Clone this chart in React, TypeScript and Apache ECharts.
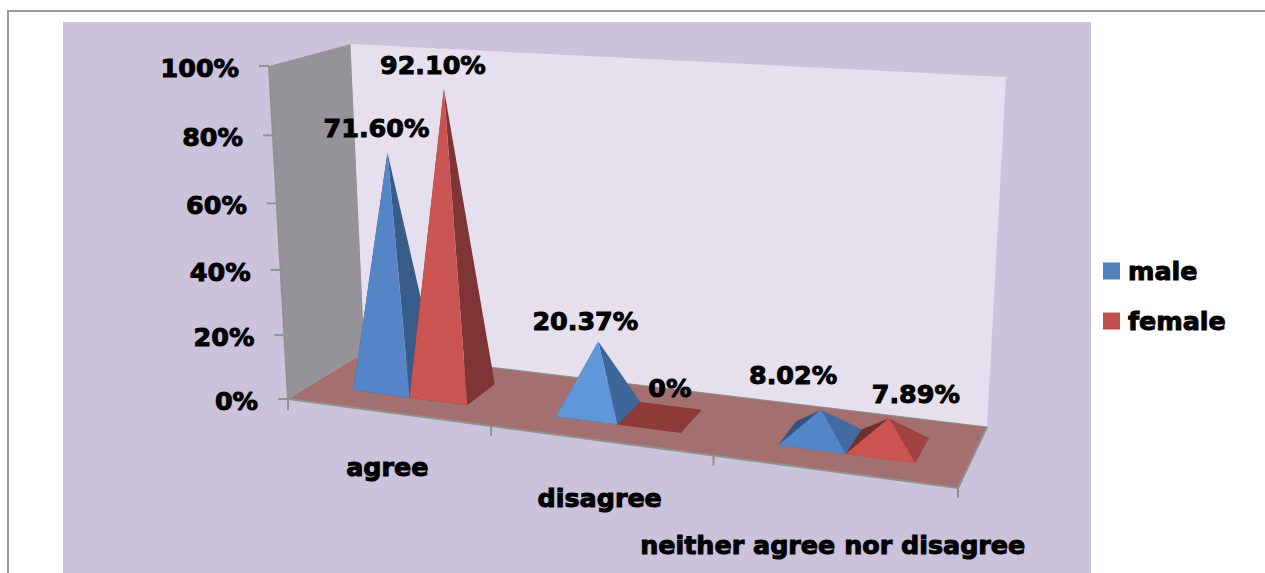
import React, { useEffect, useRef } from "react";
import * as echarts from "echarts";

const categories = ["agree", "disagree", "neither agree nor disagree"];
const maleValues = [71.6, 20.37, 8.02];
const femaleValues = [92.1, 0, 7.89];
const yTicks = [0, 20, 40, 60, 80, 100];

// Pixel placement of the printed values relative to each pyramid's apex.
const maleLabelOffsets = [[-11, -24], [-13, -21], [-28, -35]];
const femaleLabelOffsets = [[-11, -24], [10, -29], [27, -24]];
const categoryLabelDrop = [55, 58, 74];

// Face shades per category: [front, right, left, base].
const maleShades = [
  ["#5585C6", "#385D8A", "#385D8A", "#385D8A"],
  ["#5F97DA", "#3F6698", "#3F6698", "#3F6698"],
  ["#5386C7", "#3F6BA0", "#2F5580", "#3F6BA0"],
];
const femaleShades = [
  ["#C95451", "#7F3535", "#7F3535", "#7F3535"],
  ["#8E3A38", "#8E3A38", "#8E3A38", "#8E3A38"],
  ["#CB5451", "#A14340", "#6F3030", "#A14340"],
];

const FONT = '"DejaVu Sans", sans-serif';
const FONT_SIZE = 25.4;
const GRID = { left: 288, top: 66, width: 670, height: 333 };

// Corners of the 3D box on screen: F/B front/back, L/R left/right, b/t bottom/top.
const FLb = [288, 399];
const FRb = [958, 488];
const BLb = [365, 352];
const BRb = [987, 427];
const FLt = [269, 66];
const FRt = [980, 110];
const BLt = [351, 44];
const BRt = [1006, 77];

const mix = (a: number[], b: number[], f: number) => [a[0] + (b[0] - a[0]) * f, a[1] + (b[1] - a[1]) * f];

// Foreshortening along the category direction.
const warpX = (s: number) => (0.87 * s) / (1 - 0.13 * s);

// Maps s (0..1 along categories), d (0..1 into the depth) and h (0..1 of the value axis) to the screen.
function project(s: number, d: number, h: number) {
  const t = warpX(s);
  const floor = mix(mix(FLb, FRb, t), mix(BLb, BRb, t), d);
  const top = mix(mix(FLt, FRt, t), mix(BLt, BRt, t), d);
  const k = 0.95 + 0.06 * d;
  return mix(floor, top, (k * h) / (1 + (k - 1) * h));
}

const poly = (points: number[][], fill: string, z2 = 0) => ({
  type: "polygon",
  shape: { points },
  style: { fill },
  z2,
  silent: true,
});

const line = (a: number[], b: number[], stroke = "#8F9290", lineWidth = 2) => ({
  type: "line",
  shape: { x1: a[0], y1: a[1], x2: b[0], y2: b[1] },
  style: { stroke, lineWidth },
  z2: 1,
  silent: true,
});

// Heavy black text: the thin outline thickens the bold face.
const text = (str: string, x: number, y: number, align: string, z2 = 5) => ({
  type: "text",
  style: {
    text: str,
    x,
    y,
    align,
    verticalAlign: "middle",
    fill: "#000",
    font: `bold ${FONT_SIZE}px ${FONT}`,
    stroke: "#000",
    lineWidth: 1,
  },
  z2,
  silent: true,
});

const toS = (px: number) => (px - GRID.left) / GRID.width;
const toH = (py: number) => (GRID.top + GRID.height - py) / GRID.height;

// Walls, floor, ticks and axis texts of the box.
function renderBox(_: any, api: any) {
  const children: any[] = [
    poly([BLt, BRt, BRb, BLb], "#E6E0EE"),
    poly([FLt, BLt, BLb, FLb], "#96929A"),
    poly([FLb, FRb, BRb, BLb], "#A46F6F"),
    line(FLt, FLb),
    line(FLb, FRb),
    line(FRb, BRb),
    line(BLb, BRb, "#8F9290", 1),
    line(BLt, BLb, "#E9E4F0", 1),
  ];
  yTicks.forEach((v) => {
    const h = toH(api.coord([0, v])[1]);
    const p = project(0, 0, h);
    children.push(line([p[0] - 10, p[1]], p));
    children.push(text(`${v}%`, p[0] - 30, p[1] + 2, "right"));
  });
  const band = api.size([1, 0])[0] / GRID.width;
  categories.forEach((name, i) => {
    const s = toS(api.coord([i, 0])[0]);
    const edge = project(s + band / 2, 0, 0);
    children.push(line(edge, [edge[0], edge[1] + 10]));
    if (i === 0) {
      const first = project(0, 0, 0);
      children.push(line(first, [first[0], first[1] + 11]));
    }
    const mid = project(s, 0, 0);
    children.push(text(name, mid[0], mid[1] + categoryLabelDrop[i], "center"));
  });
  return { type: "group", children };
}

// One pyramid per data item; the slot says where in the category band it stands.
const renderPyramid = (slot: number, shades: string[][], offsets: number[][]) => (_: any, api: any) => {
  const i = api.value(0);
  const v = api.value(1);
  const [cx, cy] = api.coord([i, v]);
  const band = api.size([1, 0])[0] / GRID.width;
  const barW = band * 0.2865;
  const s0 = toS(cx) - band / 2 + band * 0.22 + slot * barW;
  const s1 = s0 + barW;
  const d0 = 0.3;
  const d1 = 0.72;
  const fl = project(s0, d0, 0);
  const fr = project(s1, d0, 0);
  const br = project(s1, d1, 0);
  const bl = project(s0, d1, 0);
  const apex = project((s0 + s1) / 2, (d0 + d1) / 2, toH(cy));
  const [front, right, left, base] = shades[i];
  const label = v === 0 ? "0%" : `${v.toFixed(2)}%`;
  return {
    type: "group",
    children: [
      poly([fl, fr, br, bl], base, 2),
      poly([fl, bl, apex], left, 2),
      poly([fr, br, apex], right, 2),
      poly([fl, fr, apex], front, 2),
      text(label, apex[0] + offsets[i][0], apex[1] + offsets[i][1], "center", 6),
    ],
  };
};

export default function App() {
  const ref = useRef<HTMLDivElement>(null);

  useEffect(() => {
    document.body.style.margin = "0";
    document.body.style.overflow = "hidden";
    const chart = echarts.init(ref.current!, undefined, { renderer: "svg" });
    chart.setOption({
      animation: false,
      backgroundColor: "#fff",
      grid: { ...GRID },
      xAxis: { type: "category", data: categories, show: false },
      yAxis: { type: "value", min: 0, max: 100, interval: 20, show: false },
      graphic: [
        { type: "rect", shape: { x: 63, y: 22, width: 1028, height: 551 }, style: { fill: "#CBC2DB" } },
        { type: "rect", shape: { x: 7, y: 10, width: 1258, height: 2 }, style: { fill: "#999" } },
        { type: "rect", shape: { x: 7, y: 10, width: 2, height: 563 }, style: { fill: "#999" } },
      ],
      legend: {
        data: ["male", "female"],
        orient: "vertical",
        left: 1103,
        top: 258,
        icon: "rect",
        itemWidth: 17,
        itemHeight: 17,
        itemGap: 24,
        textStyle: {
          color: "#000",
          fontFamily: FONT,
          fontWeight: "bold",
          fontSize: FONT_SIZE,
          lineHeight: 17,
          padding: [0, 0, 0, 3],
          textBorderColor: "#000",
          textBorderWidth: 1,
        },
        padding: 0,
      },
      series: [
        { type: "custom", name: "box", data: [[0, 0]], clip: false, silent: true, renderItem: renderBox, encode: { x: 0, y: 1 } },
        {
          type: "custom",
          name: "male",
          data: maleValues.map((v, i) => [i, v]),
          itemStyle: { color: "#4F81BD" },
          clip: false,
          encode: { x: 0, y: 1 },
          renderItem: renderPyramid(0, maleShades, maleLabelOffsets),
        },
        {
          type: "custom",
          name: "female",
          data: femaleValues.map((v, i) => [i, v]),
          itemStyle: { color: "#C0504D" },
          clip: false,
          encode: { x: 0, y: 1 },
          renderItem: renderPyramid(1, femaleShades, femaleLabelOffsets),
        },
      ],
    });
    return () => chart.dispose();
  }, []);

  return <div ref={ref} style={{ position: "absolute", left: 0, top: 0, width: 1265, height: 573 }} />;
}
